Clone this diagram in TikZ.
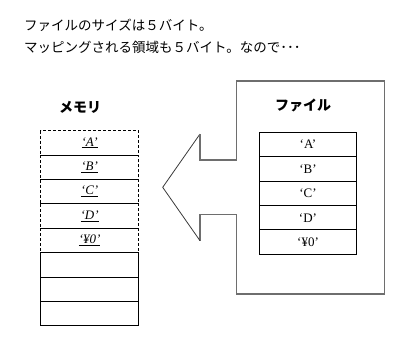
\documentclass[tikz,border=0pt]{standalone}
\usepackage{fontspec}
\setmainfont{Liberation Serif}
\newfontfamily\jp{Noto Sans CJK JP}
\definecolor{boxgray}{HTML}{6E6E6E}
\definecolor{arrowgray}{HTML}{3A3A3A}
\tikzset{
  cellbox/.style={draw=black, line width=0.9pt, minimum width=97.8pt, minimum height=24.4pt, inner sep=0pt, outer sep=0pt, font=\fontsize{13}{15}\selectfont},
  fcellbox/.style={cellbox, minimum width=97.4pt},
  dashcell/.style={cellbox, dash pattern=on 3pt off 2pt},
  titletext/.style={font=\jp\bfseries\fontsize{14}{16}\selectfont, inner sep=0pt},
  bodytext/.style={font=\jp\fontsize{13.5}{16}\selectfont, inner sep=0pt, anchor=west},
  outerline/.style={draw=boxgray, line width=1.4pt, line join=miter},
  arrowline/.style={draw=arrowgray, line width=0.8pt, line join=miter}
}
\newcommand{\mtxt}[1]{\underline{\itshape #1}}
\begin{document}
\begin{tikzpicture}[x=1pt,y=-1pt]
\useasboundingbox (0,0) rectangle (418,354);
% header text
\node[bodytext] (l1) at (24,25) {ファイルのサイズは５バイト。};
\node[bodytext] (l2) at (24,47) {マッピングされる領域も５バイト。なので･･･};
% outer file box with arrow
\coordinate (o1) at (236.7,160);
\coordinate (o2) at (236.7,81);
\coordinate (o3) at (384.7,81);
\coordinate (o4) at (384.7,294);
\coordinate (o5) at (236.7,294);
\coordinate (o6) at (236.7,214.3);
\coordinate (a1) at (200,214.3);
\coordinate (a2) at (200,240.7);
\coordinate (tip) at (162.7,187.3);
\coordinate (a3) at (200,134);
\coordinate (a4) at (200,160);
\draw[outerline] (o1) -- (o2) -- (o3) -- (o4) -- (o5) -- (o6);
\draw[outerline] (o6) -- (a1) -- (a2);
\draw[arrowline] (a2) -- (tip) -- (a3);
\draw[outerline] (a3) -- (a4) -- (o1);
% titles
\node[titletext] (mt) at (80,107) {メモリ};
\node[titletext] (ft) at (303,105) {ファイル};
% memory cells
\node[dashcell] (m1) at (89.6,142.9) {\mtxt{‘A’}};
\node[dashcell] (m2) at (89.6,167.3) {\mtxt{‘B’}};
\node[dashcell] (m3) at (89.6,191.7) {\mtxt{‘C’}};
\node[dashcell] (m4) at (89.6,216.1) {\mtxt{‘D’}};
\node[dashcell] (m5) at (89.6,240.5) {\mtxt{‘¥0’}};
\node[cellbox] (m6) at (89.6,264.9) {};
\node[cellbox] (m7) at (89.6,289.3) {};
\node[cellbox] (m8) at (89.6,313.7) {};
% file cells
\node[fcellbox] (f1) at (308,144.5) {‘A’};
\node[fcellbox] (f2) at (308,168.9) {‘B’};
\node[fcellbox] (f3) at (308,193.3) {‘C’};
\node[fcellbox] (f4) at (308,217.7) {‘D’};
\node[fcellbox] (f5) at (308,242.1) {‘¥0’};
\end{tikzpicture}
\end{document}
